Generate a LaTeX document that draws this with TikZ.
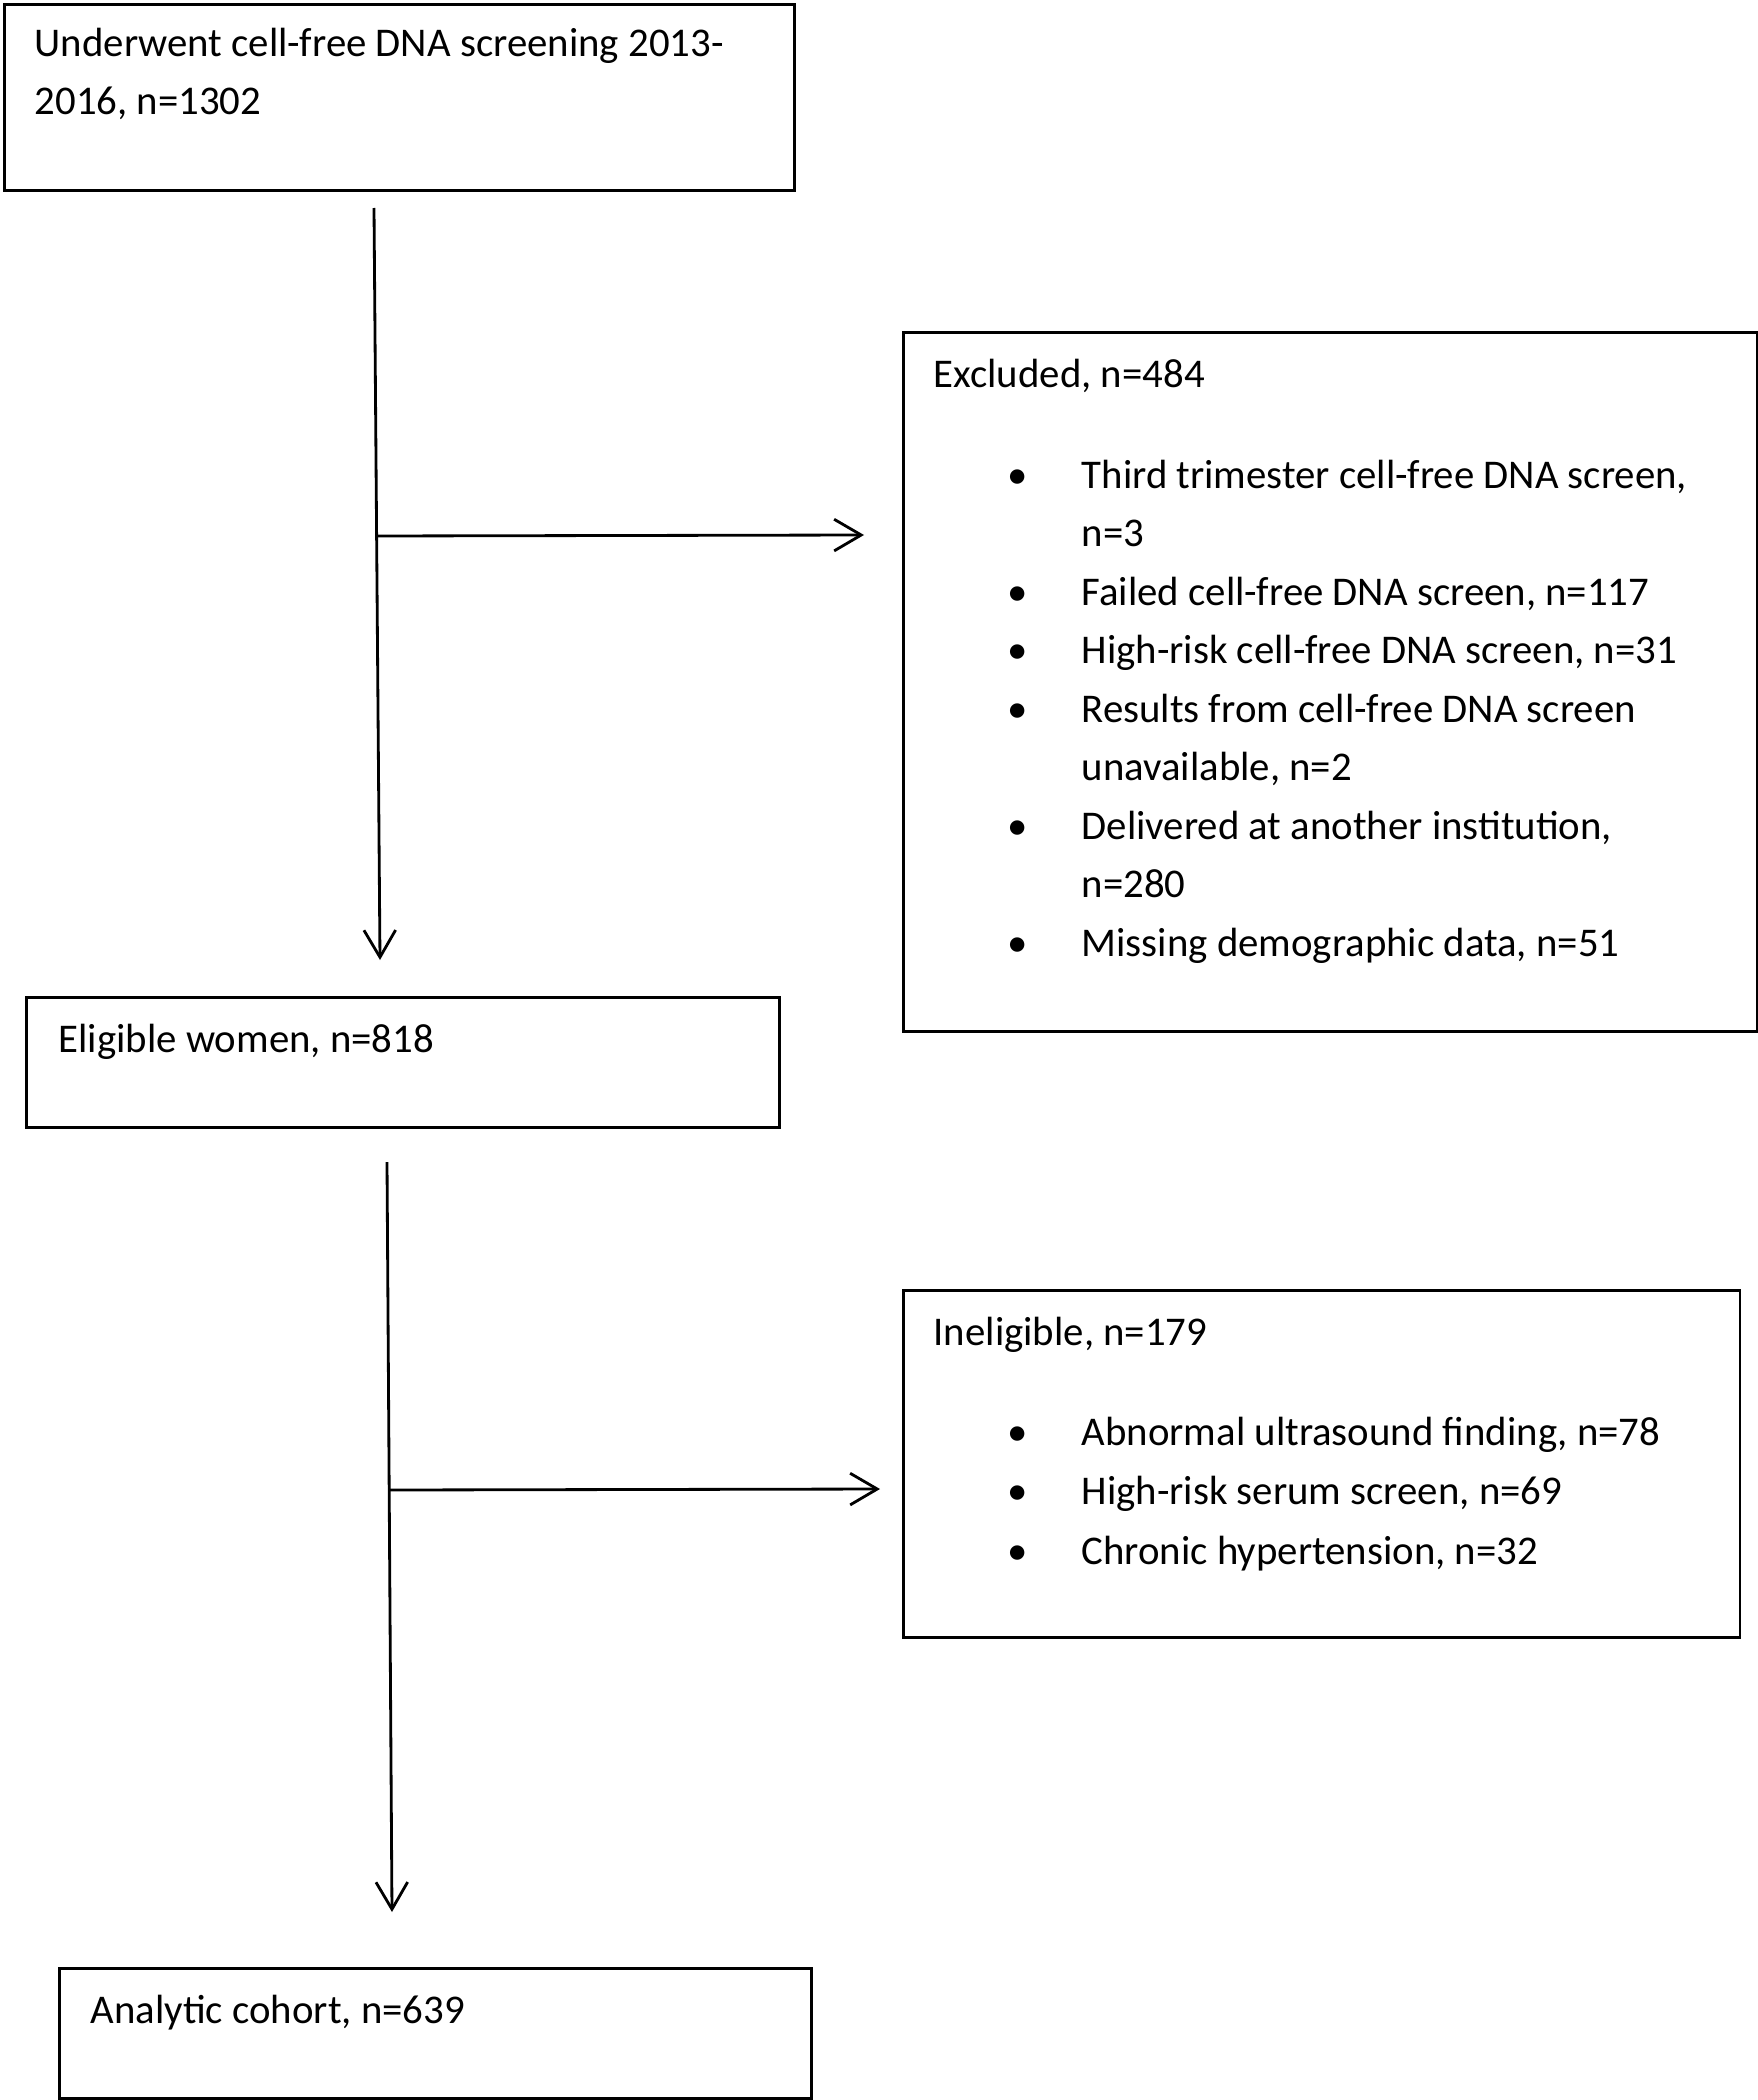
\documentclass[tikz,border=0pt]{standalone}
\usepackage{fontspec}
\setmainfont{Carlito}
\usetikzlibrary{arrows.meta}
\tikzset{
    box/.style={draw, line width=0.8pt, anchor=north west, inner sep=0pt},
    txt/.style={anchor=base west, inner sep=0pt, font=\fontsize{11.6pt}{14pt}\selectfont},
    dot/.style={anchor=base, inner sep=0pt, font=\fontsize{11.6pt}{14pt}\selectfont},
    flow/.style={line width=0.8pt, -{Straight Barb[length=7.7pt,width=9pt]}},
}

\begin{document}
\begin{tikzpicture}[x=0.01cm, y=-0.01cm]
		\useasboundingbox (0,0) rectangle (1758,2100);
		% boxes
		\node[box, minimum width=7.90cm, minimum height=1.86cm] (screened) at (3,3) {};
		\node[box, minimum width=8.53cm, minimum height=6.99cm] (excluded) at (902,331) {};
		\node[box, minimum width=7.53cm, minimum height=1.30cm] (eligible) at (25,996) {};
		\node[box, minimum width=8.36cm, minimum height=3.47cm] (ineligible) at (902,1289) {};
		\node[box, minimum width=7.52cm, minimum height=1.30cm] (cohort) at (58,1967) {};
		% titles
		\node[txt] (screenedA) at ([shift={(31,54)}]screened.north west) {Underwent cell-free DNA screening 2013-};
		\node[txt] (screenedB) at ([shift={(0,58)}]screenedA.base west) {2016, n=1302};
		\node[txt] (excludedT) at ([shift={(31,56)}]excluded.north west) {Excluded, n=484};
		\node[txt] (eligibleT) at ([shift={(33,56)}]eligible.north west) {Eligible women, n=818};
		\node[txt] (ineligibleT) at ([shift={(31,56)}]ineligible.north west) {Ineligible, n=179};
		\node[txt] (cohortT) at ([shift={(32,56)}]cohort.north west) {Analytic cohort, n=639};
		% reasons
		\foreach \b/\t [count=\i from 0] in {1/{Third trimester cell-free DNA screen,}, 0/n=3,
				1/{Failed cell-free DNA screen, n=117}, 1/{High-risk cell-free DNA screen, n=31},
				1/Results from cell-free DNA screen, 0/{unavailable, n=2},
				1/{Delivered at another institution,}, 0/n=280, 1/{Missing demographic data, n=51}} {
			\node[txt] (exc\i) at ([shift={(148,101+58.5*\i)}]excludedT.base west) {\t};
			\ifnum\b=1 \node[dot] (excdot\i) at ([shift={(85,101+58.5*\i)}]excludedT.base west) {\textbullet}; \fi
		}
		\foreach \t [count=\i from 0] in {{Abnormal ultrasound finding, n=78}, {High-risk serum screen, n=69},
				{Chronic hypertension, n=32}} {
			\node[txt] (inel\i) at ([shift={(148,100+59.5*\i)}]ineligibleT.base west) {\t};
			\node[dot] (ineldot\i) at ([shift={(85,100+59.5*\i)}]ineligibleT.base west) {\textbullet};
		}
		% connectors
		\coordinate (down1s) at (374,208);
		\coordinate (down1e) at (380,960);
		\coordinate (side1s) at (375,536);
		\coordinate (side1e) at (864,535);
		\coordinate (down2s) at (387,1162);
		\coordinate (down2e) at (392,1912);
		\coordinate (side2s) at (388,1490);
		\coordinate (side2e) at (880,1489);
		\draw[flow] (down1s) -- (down1e);
		\draw[flow] (side1s) -- (side1e);
		\draw[flow] (down2s) -- (down2e);
		\draw[flow] (side2s) -- (side2e);
	\end{tikzpicture}
\end{document}
